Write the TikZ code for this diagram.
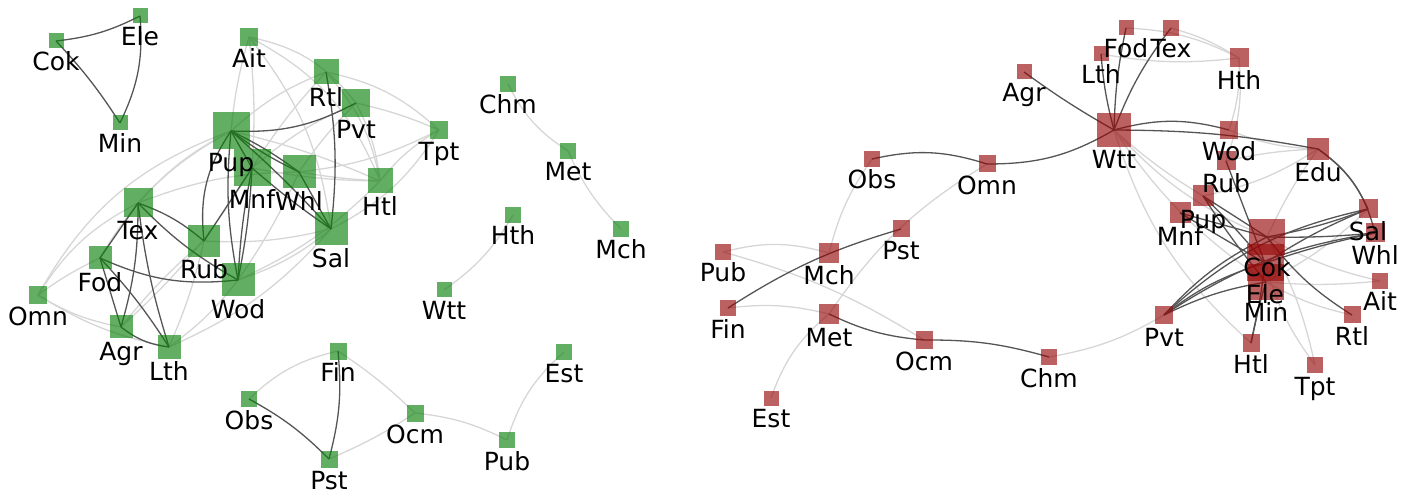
\documentclass[tikz,border=0pt]{standalone}
\usepackage{fontspec}
\setmainfont{DejaVu Sans}
\pgfdeclarelayer{ltl}
\pgfdeclarelayer{dkl}
\pgfdeclarelayer{top}
\pgfsetlayers{ltl,dkl,main,top}
\definecolor{gcol}{RGB}{10,128,10}
\definecolor{rcol}{RGB}{150,8,8}
\definecolor{dkcol}{RGB}{85,85,85}
\definecolor{ltcol}{RGB}{214,214,214}
\tikzset{
  gn/.style={rectangle,inner sep=0pt,fill=gcol,fill opacity=0.64,draw=none},
  rn/.style={rectangle,inner sep=0pt,fill=rcol,fill opacity=0.64,draw=none},
  lb/.style={anchor=base,inner sep=0pt,font=\fontsize{25}{29}\selectfont,text=black},
  dk/.style={draw=dkcol,line width=1.3pt},
  lt/.style={draw=ltcol,line width=1.3pt},
}
\newcommand\nd[6]{%
  \node[#1,minimum size=#5pt] (#2) at (#3,#4) {};
  \begin{pgfonlayer}{top}\node[lb] (#2l) at (#3,#4+#5/2+22) {#6};\end{pgfonlayer}}
\newcommand\LT[3]{\begin{pgfonlayer}{ltl}\draw[lt] (#1.center) to[#3] (#2.center);\end{pgfonlayer}}
\newcommand\DK[3]{\begin{pgfonlayer}{dkl}\draw[dk] (#1.center) to[#3] (#2.center);\end{pgfonlayer}}
\begin{document}
\begin{tikzpicture}[x=1pt,y=-1pt]
\useasboundingbox (0,0) rectangle (1411,494);
% ---------------- left graph ----------------
\nd{gn}{LCok}{56}{41}{15}{Cok}
\nd{gn}{LEle}{140}{16}{15}{Ele}
\nd{gn}{LMin}{120}{123}{15}{Min}
\nd{gn}{LAit}{249}{37}{18}{Ait}
\nd{gn}{LRtl}{326}{72}{25}{Rtl}
\nd{gn}{LPvt}{356}{103}{28}{Pvt}
\nd{gn}{LTpt}{439}{130}{18}{Tpt}
\nd{gn}{LPup}{231}{131}{37}{Pup}
\nd{gn}{LMnf}{252}{168}{37}{Mnf}
\nd{gn}{LWhl}{299}{172}{33}{Whl}
\nd{gn}{LHtl}{380}{181}{25}{Htl}
\nd{gn}{LTex}{138}{203}{29}{Tex}
\nd{gn}{LSal}{331}{229}{33}{Sal}
\nd{gn}{LRub}{204}{241}{32}{Rub}
\nd{gn}{LFod}{100}{258}{23}{Fod}
\nd{gn}{LWod}{238}{280}{33}{Wod}
\nd{gn}{LOmn}{38}{295}{18}{Omn}
\nd{gn}{LAgr}{121}{327}{23}{Agr}
\nd{gn}{LLth}{169}{347}{23}{Lth}
\nd{gn}{LFin}{338}{351}{17}{Fin}
\nd{gn}{LObs}{249}{399}{16}{Obs}
\nd{gn}{LOcm}{415}{413}{17}{Ocm}
\nd{gn}{LPst}{329}{459}{17}{Pst}
\nd{gn}{LWtt}{444}{290}{15}{Wtt}
\nd{gn}{LChm}{508}{84}{16}{Chm}
\nd{gn}{LMet}{568}{151}{16}{Met}
\nd{gn}{LMch}{621}{229}{16}{Mch}
\nd{gn}{LHth}{513}{215}{16}{Hth}
\nd{gn}{LEst}{564}{352}{16}{Est}
\nd{gn}{LPub}{507}{440}{16}{Pub}
% left light edges
\LT{LAit}{LPup}{bend right=5}
\LT{LAit}{LMnf}{bend left=5}
\LT{LAit}{LSal}{bend left=15}
\LT{LAit}{LPvt}{bend left=20}
\LT{LAit}{LHtl}{bend left=20}
\LT{LRtl}{LTpt}{bend left=15}
\LT{LPvt}{LTpt}{bend left=5}
\LT{LPvt}{LHtl}{bend left=10}
\LT{LRtl}{LHtl}{bend left=15}
\LT{LTpt}{LHtl}{bend right=10}
\LT{LTpt}{LWhl}{bend left=10}
\LT{LTpt}{LSal}{bend left=15}
\LT{LHtl}{LWhl}{bend left=3}
\LT{LHtl}{LMnf}{bend left=5}
\LT{LHtl}{LPup}{bend right=5}
\LT{LPvt}{LWhl}{bend right=5}
\LT{LPvt}{LMnf}{bend right=8}
\LT{LRtl}{LMnf}{bend right=5}
\LT{LRtl}{LPup}{bend right=10}
\LT{LTex}{LPup}{bend left=10}
\LT{LTex}{LWhl}{bend left=10}
\LT{LOmn}{LTex}{bend left=15}
\LT{LOmn}{LPup}{bend left=20}
\LT{LOmn}{LFod}{bend left=5}
\LT{LOmn}{LAgr}{bend right=10}
\LT{LOmn}{LLth}{bend right=10}
\LT{LAgr}{LRub}{bend left=5}
\LT{LAgr}{LMnf}{bend right=8}
\LT{LLth}{LRub}{bend right=5}
\LT{LLth}{LWod}{bend right=8}
\LT{LLth}{LSal}{bend right=12}
\LT{LRub}{LSal}{bend right=8}
\LT{LWod}{LSal}{bend right=10}
\LT{LWod}{LHtl}{bend right=10}
\LT{LWod}{LWhl}{bend right=5}
\LT{LFod}{LPup}{bend left=15}
% left dark edges
\DK{LCok}{LEle}{bend right=10}
\DK{LCok}{LMin}{bend left=5}
\DK{LEle}{LMin}{bend left=15}
\DK{LPup}{LPvt}{bend right=15}
\DK{LPup}{LMnf}{}
\DK{LPup}{LWhl}{bend right=5}
\DK{LPup}{LWhl}{bend left=5}
\DK{LPup}{LSal}{bend left=3}
\DK{LMnf}{LSal}{bend right=3}
\DK{LWhl}{LSal}{}
\DK{LPup}{LRub}{bend right=20}
\DK{LPup}{LWod}{bend right=8}
\DK{LMnf}{LWod}{bend left=4}
\DK{LMnf}{LWod}{bend right=4}
\DK{LMnf}{LRub}{}
\DK{LRtl}{LSal}{bend left=8}
\DK{LTex}{LRub}{bend left=10}
\DK{LTex}{LWod}{bend right=8}
\DK{LTex}{LFod}{}
\DK{LTex}{LAgr}{bend left=8}
\DK{LTex}{LLth}{bend right=5}
\DK{LFod}{LWod}{bend right=15}
\DK{LFod}{LAgr}{}
\DK{LFod}{LLth}{bend left=5}
\DK{LAgr}{LLth}{bend right=15}
% small components
\LT{LChm}{LMet}{bend right=15}
\LT{LMet}{LMch}{bend right=10}
\LT{LHth}{LWtt}{bend left=12}
\LT{LEst}{LPub}{bend right=15}
\LT{LOcm}{LPub}{bend left=10}
\LT{LFin}{LOcm}{bend left=5}
\LT{LFin}{LObs}{bend right=15}
\LT{LOcm}{LPst}{bend left=5}
\DK{LFin}{LPst}{bend left=10}
\DK{LObs}{LPst}{bend left=8}
% ---------------- right graph ----------------
\nd{rn}{RAgr}{1024}{72}{15}{Agr}
\nd{rn}{RObs}{872}{159}{16}{Obs}
\nd{rn}{ROmn}{987}{164}{17}{Omn}
\nd{rn}{RPst}{901}{229}{17}{Pst}
\nd{rn}{RLth}{1101}{54}{15}{Lth}
\nd{rn}{RFod}{1126}{28}{15}{Fod}
\nd{rn}{RTex}{1171}{28}{16}{Tex}
\nd{rn}{RHth}{1239}{58}{19}{Hth}
\nd{rn}{RWtt}{1114}{130}{34}{Wtt}
\nd{rn}{RWod}{1229}{130}{18}{Wod}
\nd{rn}{REdu}{1318}{149}{22}{Edu}
\nd{rn}{RRub}{1226}{161}{19}{Rub}
\nd{rn}{RPup}{1203}{196}{21}{Pup}
\nd{rn}{RMnf}{1180}{213}{21}{Mnf}
\nd{rn}{RSal}{1368}{209}{19}{Sal}
\nd{rn}{RWhl}{1375}{233}{19}{Whl}
\nd{rn}{RCok}{1267}{237}{36}{Cok}
\nd{rn}{REle}{1265}{263}{37}{Ele}
\nd{rn}{RMin}{1266}{282}{36}{Min}
\nd{rn}{RAit}{1380}{281}{16}{Ait}
\nd{rn}{RRtl}{1352}{315}{17}{Rtl}
\nd{rn}{RPvt}{1164}{315}{18}{Pvt}
\nd{rn}{RHtl}{1251}{343}{17}{Htl}
\nd{rn}{RTpt}{1315}{365}{16}{Tpt}
\nd{rn}{RPub}{723}{252}{16}{Pub}
\nd{rn}{RMch}{829}{253}{20}{Mch}
\nd{rn}{RFin}{728}{308}{16}{Fin}
\nd{rn}{RMet}{829}{314}{20}{Met}
\nd{rn}{ROcm}{924}{340}{17}{Ocm}
\nd{rn}{RChm}{1049}{357}{16}{Chm}
\nd{rn}{REst}{771}{398}{15}{Est}
% right light edges
\LT{RHth}{RFod}{bend right=12}
\LT{RHth}{RTex}{bend right=8}
\LT{RHth}{RLth}{bend left=8}
\LT{RHth}{RWod}{bend left=10}
\LT{RHth}{RRub}{bend left=12}
\LT{RWtt}{RCok}{bend right=12}
\LT{RWtt}{RMin}{bend right=10}
\LT{RWtt}{RHtl}{bend right=15}
\LT{RWtt}{RPup}{bend right=5}
\LT{RWod}{REdu}{bend right=10}
\LT{RRub}{REdu}{bend left=5}
\LT{RPup}{REdu}{bend right=10}
\LT{REdu}{RCok}{bend right=5}
\LT{RTpt}{RCok}{bend right=8}
\LT{RTpt}{REle}{bend left=10}
\LT{RAit}{RCok}{bend left=8}
\LT{RAit}{RMin}{bend left=5}
\LT{RRtl}{RMin}{bend left=8}
\LT{RSal}{RMin}{bend left=8}
\LT{RChm}{RPvt}{bend right=10}
\LT{RPub}{RMch}{bend left=15}
\LT{RPub}{ROcm}{bend left=8}
\LT{RFin}{RMet}{bend left=10}
\LT{REst}{RMet}{bend left=15}
\LT{RObs}{RMch}{bend right=10}
\LT{ROmn}{RMet}{bend right=12}
% right dark edges
\DK{RAgr}{RWtt}{bend right=3}
\DK{RLth}{RWtt}{bend right=5}
\DK{RFod}{RWtt}{bend right=5}
\DK{RTex}{RWtt}{bend right=8}
\DK{ROmn}{RWtt}{bend right=15}
\DK{RObs}{ROmn}{bend left=15}
\DK{RWtt}{RWod}{bend left=15}
\DK{RWtt}{REdu}{bend left=5}
\DK{REdu}{RSal}{bend left=15}
\DK{REdu}{RWhl}{bend left=20}
\DK{RFin}{RPst}{bend left=8}
\DK{RMet}{ROcm}{bend right=10}
\DK{ROcm}{RChm}{bend left=8}
\DK{RPvt}{RCok}{bend left=10}
\DK{RPvt}{RSal}{bend left=15}
\DK{RPvt}{RWhl}{bend left=12}
\DK{RPvt}{REle}{bend left=10}
\DK{RPvt}{RMin}{bend left=8}
\DK{RPup}{RCok}{}
\DK{RPup}{REle}{bend left=3}
\DK{RPup}{RMin}{bend right=3}
\DK{RRub}{REle}{}
\DK{RMnf}{REle}{}
\DK{RMnf}{RCok}{}
\DK{RCok}{RSal}{bend right=5}
\DK{RCok}{RWhl}{bend right=3}
\DK{REle}{RWhl}{bend left=3}
\DK{REle}{RSal}{bend left=5}
\DK{RCok}{RRtl}{bend right=10}
\DK{RHtl}{RMin}{bend left=3}
\DK{RHtl}{REle}{bend right=3}
\end{tikzpicture}
\end{document}
